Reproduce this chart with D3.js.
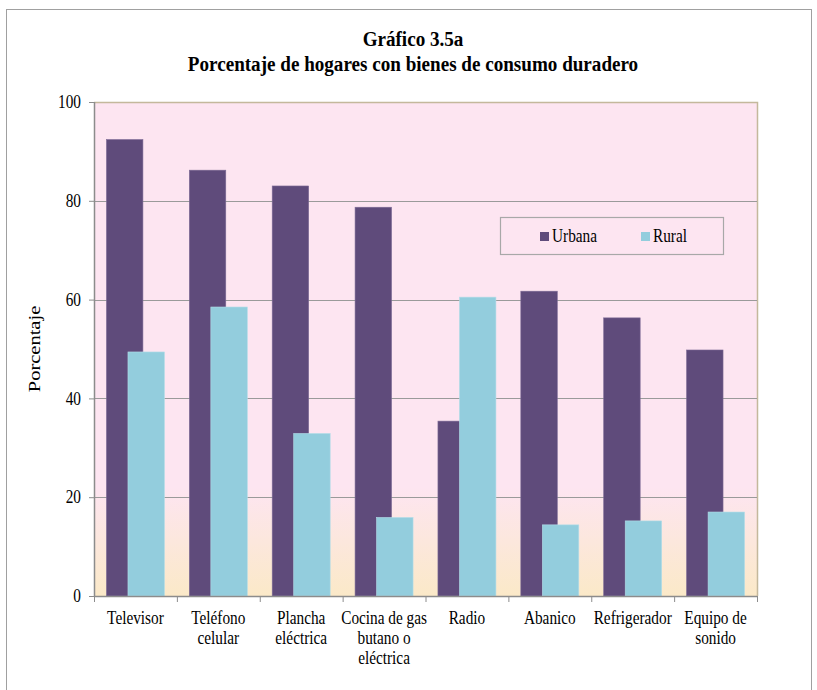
<!DOCTYPE html>
<html>
<head>
<meta charset="utf-8">
<script src="https://cdn.jsdelivr.net/npm/d3@7"></script>
<style>
  body { margin: 0; background: #fff; }
  svg { display: block; }
</style>
</head>
<body>
<div id="chart"></div>
<script>
// datos
const categories = [
  ["Televisor"],
  ["Teléfono", "celular"],
  ["Plancha", "eléctrica"],
  ["Cocina de gas", "butano o", "eléctrica"],
  ["Radio"],
  ["Abanico"],
  ["Refrigerador"],
  ["Equipo de", "sonido"]
];
const urbana = [92.4, 86.2, 83.0, 78.7, 35.4, 61.7, 56.3, 49.8];
const rural = [49.4, 58.5, 32.9, 15.9, 60.5, 14.4, 15.2, 17.0];
const seriesNames = ["Urbana", "Rural"];
const seriesColors = ["#5f4b7b", "#93cddd"];
const yTicks = [0, 20, 40, 60, 80, 100];

const width = 817, height = 690;
const margin = { top: 102, right: 60, bottom: 94, left: 94 };
const font = "'Liberation Serif', 'DejaVu Serif', serif";
const fs = 18, sx = 0.85; // letra alta y estrecha como en el original

const svg = d3.select('#chart').append('svg')
  .attr('width', width)
  .attr('height', height)
  .style('font-family', font);

// texto estrechado horizontalmente
function squeezed(parent, x, y, lines, opts = {}) {
  const g = parent.append('g')
    .attr('transform', `translate(${x},${y}) scale(${opts.sx || sx},1)`);
  const t = g.append('text')
    .attr('text-anchor', opts.anchor || 'middle')
    .attr('fill', '#000')
    .style('font-size', (opts.size || fs) + 'px')
    .style('font-weight', opts.weight || 'normal');
  if (opts.dy) t.attr('dy', opts.dy);
  t.selectAll('tspan')
    .data(lines)
    .join('tspan')
    .attr('x', 0)
    .attr('y', (d, j) => j * (opts.lh || 20))
    .text(d => d);
  return g;
}

// marco exterior
svg.append('rect')
  .attr('x', 6.5).attr('y', 9.5)
  .attr('width', 805).attr('height', 700)
  .attr('fill', 'none')
  .attr('stroke', '#a0a0a0')
  .attr('stroke-width', 1);

const x = d3.scaleBand()
  .domain(d3.range(categories.length))
  .range([margin.left, width - margin.right])
  .paddingInner(0).paddingOuter(0);

const y = d3.scaleLinear()
  .domain([0, 100])
  .range([height - margin.bottom, margin.top]);

// fondo con degradado
const defs = svg.append('defs');
const grad = defs.append('linearGradient')
  .attr('id', 'bg').attr('x1', 0).attr('y1', 0).attr('x2', 0).attr('y2', 1);
grad.append('stop').attr('offset', '0%').attr('stop-color', '#fde5f1');
grad.append('stop').attr('offset', '78%').attr('stop-color', '#fde5f1');
grad.append('stop').attr('offset', '100%').attr('stop-color', '#fbe9c8');

svg.append('rect')
  .attr('x', margin.left).attr('y', y(100))
  .attr('width', x.range()[1] - margin.left)
  .attr('height', y(0) - y(100))
  .attr('fill', 'url(#bg)');

// borde superior y derecho
svg.append('path')
  .attr('d', `M${margin.left},${y(100) + 0.5}H${x.range()[1] + 0.5}V${y(0)}`)
  .attr('fill', 'none')
  .attr('stroke', '#c4b89c')
  .attr('stroke-width', 1.5);

// líneas de cuadrícula
svg.append('g')
  .selectAll('line')
  .data(yTicks.filter(d => d > 0 && d < 100))
  .join('line')
  .attr('x1', margin.left).attr('x2', x.range()[1])
  .attr('y1', d => Math.round(y(d)) + 0.5)
  .attr('y2', d => Math.round(y(d)) + 0.5)
  .attr('stroke', '#9a9a9a')
  .attr('stroke-width', 1);

// barras (Rural se superpone a Urbana)
const bw = x.bandwidth();
const barW = bw * 0.44;
const overlap = barW * 0.41;
const groupW = 2 * barW - overlap;
const offsets = [(bw - groupW) / 2, (bw - groupW) / 2 + barW - overlap];

[urbana, rural].forEach((vals, s) => {
  svg.append('g')
    .selectAll('rect')
    .data(vals)
    .join('rect')
    .attr('x', (d, i) => x(i) + offsets[s])
    .attr('y', d => y(d))
    .attr('width', barW)
    .attr('height', d => y(0) - y(d))
    .attr('fill', seriesColors[s])
    .attr('stroke', s === 0 ? '#7d6b96' : '#b4dde8')
    .attr('stroke-width', 0.6);
});

// eje Y
const yAxis = svg.append('g')
  .attr('transform', `translate(${margin.left},0)`)
  .call(d3.axisLeft(y).tickValues(yTicks).tickSize(5).tickFormat(''));
yAxis.select('.domain').attr('stroke', '#8c8c8c').attr('stroke-width', 1.5).attr('d', `M0.5,${y(100)}V${y(0)}`);
yAxis.selectAll('.tick line').attr('stroke', '#8c8c8c');
yTicks.forEach(v => {
  squeezed(svg, margin.left - 13, y(v), [d3.format('d')(v)], { anchor: 'end', dy: '0.34em' });
});

// eje X
const xAxis = svg.append('g')
  .attr('transform', `translate(0,${y(0)})`);
xAxis.append('line')
  .attr('x1', margin.left).attr('x2', x.range()[1])
  .attr('y1', 0.5).attr('y2', 0.5)
  .attr('stroke', '#8c8c8c').attr('stroke-width', 1.5);
xAxis.selectAll('.xt')
  .data(d3.range(categories.length + 1))
  .join('line')
  .attr('class', 'xt')
  .attr('x1', i => margin.left + i * bw + 0.5)
  .attr('x2', i => margin.left + i * bw + 0.5)
  .attr('y1', 0).attr('y2', 6)
  .attr('stroke', '#8c8c8c');

categories.forEach((lines, i) => {
  squeezed(xAxis, x(i) + bw / 2, 28, lines, { lh: 20 });
});

// título del eje Y
svg.append('text')
  .attr('transform', `translate(40,${(y(0) + y(100)) / 2}) rotate(-90) scale(1,${sx})`)
  .attr('text-anchor', 'middle')
  .style('font-size', '20.5px')
  .text('Porcentaje');

// título
squeezed(svg, 413, 46, ['Gráfico 3.5a', 'Porcentaje de hogares con bienes de consumo duradero'],
  { size: 21, sx: 0.91, weight: 'bold', lh: 25 });

// leyenda
const legend = svg.append('g').attr('transform', 'translate(500,217)');
legend.append('rect')
  .attr('x', 0.5).attr('y', 0.5)
  .attr('width', 223).attr('height', 37)
  .attr('fill', 'none')
  .attr('stroke', '#a8a8a8')
  .attr('stroke-width', 1.2);
const legendX = [40, 141];
seriesNames.forEach((name, s) => {
  legend.append('rect')
    .attr('x', legendX[s]).attr('y', 15)
    .attr('width', 9).attr('height', 9)
    .attr('fill', seriesColors[s]);
  squeezed(legend, legendX[s] + 12, 25, [name], { anchor: 'start' });
});
</script>
</body>
</html>
